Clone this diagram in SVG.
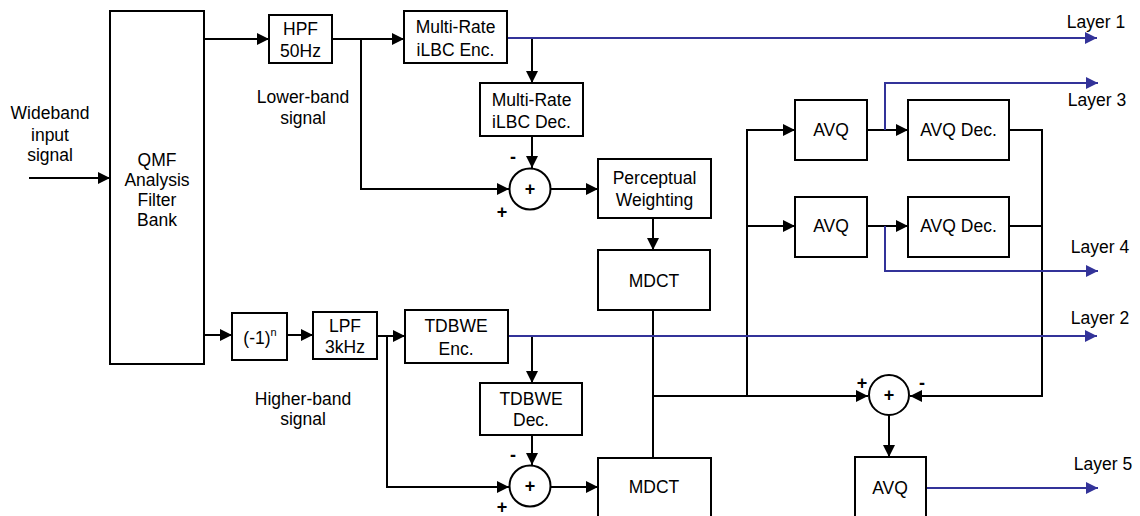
<svg xmlns="http://www.w3.org/2000/svg" width="1140" height="516" viewBox="0 0 1140 516">
<style>
text{font-family:"Liberation Sans",Arial,sans-serif;font-size:17.5px;fill:#000;text-anchor:middle}
.box{fill:#fff;stroke:#000;stroke-width:2}
.w{fill:none;stroke:#000;stroke-width:2}
.b{fill:none;stroke:#333399;stroke-width:2}
.sum{fill:#fff;stroke:#000;stroke-width:2}
.sg{font-size:18px;font-weight:bold}
</style>
<defs>
<marker id="ak" markerUnits="userSpaceOnUse" markerWidth="12" markerHeight="12" refX="12" refY="6" orient="auto"><path d="M0,0 L12,6 L0,12 z" fill="#000"/></marker>
<marker id="ab" markerUnits="userSpaceOnUse" markerWidth="12" markerHeight="12" refX="12" refY="6" orient="auto"><path d="M0,0 L12,6 L0,12 z" fill="#333399"/></marker>
</defs>
<rect width="1140" height="516" fill="#fff"/>
<g id="connectors">
<path class="w" d="M29,178 H110" marker-end="url(#ak)"/>
<path class="w" d="M204,39 H269" marker-end="url(#ak)"/>
<path class="w" d="M332,39 H404" marker-end="url(#ak)"/>
<path class="w" d="M361,39 V189 H509" marker-end="url(#ak)"/>
<path class="w" d="M532,38 V83" marker-end="url(#ak)"/>
<path class="w" d="M532,136 V168" marker-end="url(#ak)"/>
<path class="w" d="M550,189 H598" marker-end="url(#ak)"/>
<path class="w" d="M653,218 V250" marker-end="url(#ak)"/>
<path class="w" d="M653,310 V458"/>
<path class="w" d="M653,396 H868" marker-end="url(#ak)"/>
<path class="w" d="M747,396 V130 H795" marker-end="url(#ak)"/>
<path class="w" d="M747,226 H795" marker-end="url(#ak)"/>
<path class="w" d="M867,130 H908" marker-end="url(#ak)"/>
<path class="w" d="M867,226 H908" marker-end="url(#ak)"/>
<path class="w" d="M1009,130 H1042 V396 H910" marker-end="url(#ak)"/>
<path class="w" d="M1009,226 H1042"/>
<path class="w" d="M889,415 V457" marker-end="url(#ak)"/>
<path class="w" d="M204,335 H232" marker-end="url(#ak)"/>
<path class="w" d="M287,335 H313" marker-end="url(#ak)"/>
<path class="w" d="M377,336 H405" marker-end="url(#ak)"/>
<path class="w" d="M387,336 V487 H509" marker-end="url(#ak)"/>
<path class="w" d="M532,336 V383" marker-end="url(#ak)"/>
<path class="w" d="M532,435 V465" marker-end="url(#ak)"/>
<path class="w" d="M550,487 H598" marker-end="url(#ak)"/>
<path class="b" d="M507,38 H1097" marker-end="url(#ab)"/>
<path class="b" d="M885,130 V83 H1098" marker-end="url(#ab)"/>
<path class="b" d="M885,226 V271 H1098" marker-end="url(#ab)"/>
<path class="b" d="M508,336 H1097" marker-end="url(#ab)"/>
<path class="b" d="M926,488 H1098" marker-end="url(#ab)"/>
</g>
<g id="qmf"><rect class="box" x="110" y="11" width="94" height="353"/><text x="157" y="166">QMF</text><text x="157" y="186">Analysis</text><text x="157" y="206">Filter</text><text x="157" y="226">Bank</text></g>
<g id="input-label"><text x="50" y="119">Wideband</text><text x="50" y="141">input</text><text x="50" y="161">signal</text></g>
<g id="hpf"><rect class="box" x="269" y="15" width="63" height="48"/><text x="300.5" y="35">HPF</text><text x="300.5" y="57">50Hz</text></g>
<g id="lower-label"><text x="303" y="103">Lower-band</text><text x="303" y="124">signal</text></g>
<g id="ilbc-enc"><rect class="box" x="404" y="11" width="103" height="52"/><text x="455.5" y="33">Multi-Rate</text><text x="455.5" y="56">iLBC Enc.</text></g>
<g id="ilbc-dec"><rect class="box" x="480" y="83" width="103" height="53"/><text x="531.5" y="106">Multi-Rate</text><text x="531.5" y="128">iLBC Dec.</text></g>
<g id="sum1"><circle class="sum" cx="530" cy="189" r="20.5"/><text class="sg" x="530" y="195">+</text><text class="sg" x="513" y="163">-</text><text class="sg" x="502" y="218">+</text></g>
<g id="perceptual"><rect class="box" x="598" y="159" width="113" height="59"/><text x="654.5" y="184">Perceptual</text><text x="654.5" y="206">Weighting</text></g>
<g id="mdct1"><rect class="box" x="598" y="250" width="112" height="60"/><text x="654" y="287">MDCT</text></g>
<g id="avq1"><rect class="box" x="795" y="100" width="72" height="60"/><text x="831" y="136">AVQ</text></g>
<g id="avqdec1"><rect class="box" x="908" y="100" width="101" height="60"/><text x="958.5" y="136">AVQ Dec.</text></g>
<g id="avq2"><rect class="box" x="795" y="197" width="72" height="60"/><text x="831" y="232">AVQ</text></g>
<g id="avqdec2"><rect class="box" x="908" y="197" width="101" height="60"/><text x="958.5" y="232">AVQ Dec.</text></g>
<g id="sum2"><circle class="sum" cx="889" cy="395" r="20"/><text class="sg" x="889" y="401">+</text><text class="sg" x="862" y="389">+</text><text class="sg" x="922" y="389">-</text></g>
<g id="avq3"><rect class="box" x="855" y="457" width="71" height="80"/><text x="890" y="494">AVQ</text></g>
<g id="layers"><text x="1096" y="28">Layer 1</text><text x="1097" y="106">Layer 3</text><text x="1100" y="253">Layer 4</text><text x="1100" y="324">Layer 2</text><text x="1103" y="470">Layer 5</text></g>
<g id="modulate"><rect class="box" x="232" y="313" width="55" height="47"/><text x="260" y="344">(-1)<tspan font-size="11" dy="-8">n</tspan></text></g>
<g id="lpf"><rect class="box" x="313" y="312" width="64" height="47"/><text x="345" y="332">LPF</text><text x="345" y="353">3kHz</text></g>
<g id="higher-label"><text x="303" y="405">Higher-band</text><text x="303" y="425">signal</text></g>
<g id="tdbwe-enc"><rect class="box" x="405" y="310" width="103" height="53"/><text x="456" y="332">TDBWE</text><text x="456" y="355">Enc.</text></g>
<g id="tdbwe-dec"><rect class="box" x="480" y="383" width="102" height="52"/><text x="531" y="405">TDBWE</text><text x="531" y="426">Dec.</text></g>
<g id="sum3"><circle class="sum" cx="530" cy="486" r="20.5"/><text class="sg" x="530" y="492">+</text><text class="sg" x="513" y="461">-</text><text class="sg" x="502" y="513">+</text></g>
<g id="mdct2"><rect class="box" x="598" y="458" width="113" height="80"/><text x="654" y="493">MDCT</text></g>
</svg>
